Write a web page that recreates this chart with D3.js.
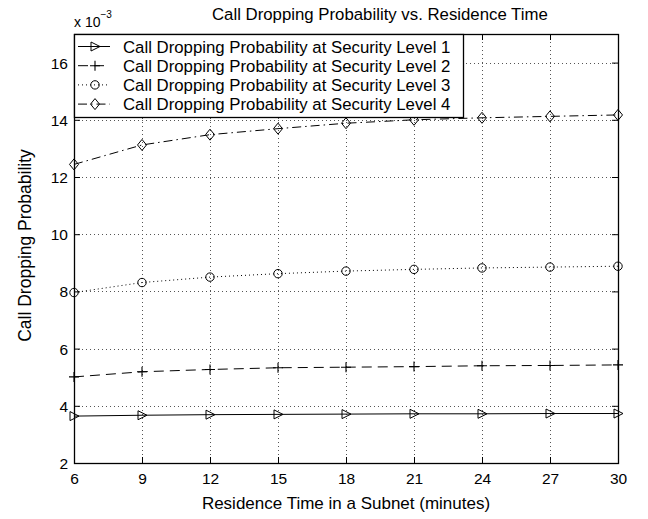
<!DOCTYPE html>
<html>
<head>
<meta charset="utf-8">
<script src="https://cdn.jsdelivr.net/npm/d3@7"></script>
<style>
  html, body { margin: 0; padding: 0; background: #fff; }
  svg { display: block; font-family: Arial, "Liberation Sans", Helvetica, sans-serif; }
</style>
</head>
<body>
<svg id="chart" width="648" height="519"></svg>
<script>
// ---- data (values in units of 1e-3) ----
const residenceTimes = [6, 9, 12, 15, 18, 21, 24, 27, 30];
const level1 = [3.64, 3.67, 3.69, 3.70, 3.71, 3.72, 3.72, 3.73, 3.73];
const level2 = [5.01, 5.19, 5.27, 5.33, 5.35, 5.37, 5.40, 5.41, 5.43];
const level3 = [7.96, 8.31, 8.50, 8.62, 8.71, 8.77, 8.82, 8.85, 8.88];
const level4 = [12.44, 13.12, 13.48, 13.69, 13.88, 14.00, 14.07, 14.12, 14.17];
const seriesNames = [
  "Call Dropping Probability at Security Level 1",
  "Call Dropping Probability at Security Level 2",
  "Call Dropping Probability at Security Level 3",
  "Call Dropping Probability at Security Level 4"
];
const xTicks = [6, 9, 12, 15, 18, 21, 24, 27, 30];
const yTicks = [2, 4, 6, 8, 10, 12, 14, 16];
const titleText = "Call Dropping Probability vs. Residence Time";
const xLabelText = "Residence Time in a Subnet (minutes)";
const yLabelText = "Call Dropping Probability";

const series = [
  { name: seriesNames[0], values: level1, dash: null, marker: "triangle" },
  { name: seriesNames[1], values: level2, dash: "10,6", marker: "plus" },
  { name: seriesNames[2], values: level3, dash: "1,3", marker: "circle" },
  { name: seriesNames[3], values: level4, dash: "9,4,1.5,4", marker: "diamond" }
];

// ---- layout ----
const W = 648, H = 519;
const m = { left: 74, right: 30, top: 34, bottom: 56 };
const svg = d3.select("#chart");
const x = d3.scaleLinear().domain([6, 30]).range([m.left, W - m.right]);
const y = d3.scaleLinear().domain([2, 17]).range([H - m.bottom, m.top]);
const x0 = x.range()[0], x1 = x.range()[1], y0 = y.range()[0], y1 = y.range()[1];

// grid
const grid = svg.append("g").attr("stroke", "#555").attr("stroke-width", 1).attr("stroke-dasharray", "1,3");
grid.selectAll("line.gx").data(xTicks.filter(t => t > 6 && t < 30)).join("line")
  .attr("x1", d => Math.round(x(d)) + 0.5).attr("x2", d => Math.round(x(d)) + 0.5)
  .attr("y1", y1).attr("y2", y0);
grid.selectAll("line.gy").data(yTicks.filter(t => t > 2)).join("line")
  .attr("y1", d => Math.round(y(d)) + 0.5).attr("y2", d => Math.round(y(d)) + 0.5)
  .attr("x1", x0).attr("x2", x1);

// axes (MATLAB style: inward ticks on all sides)
const tickLen = 6;
const fmt = d3.format("d");
const axB = svg.append("g").attr("transform", `translate(0,${y0})`)
  .call(d3.axisBottom(x).tickValues(xTicks).tickFormat(fmt).tickSizeInner(-tickLen).tickSizeOuter(0).tickPadding(10));
const axL = svg.append("g").attr("transform", `translate(${x0},0)`)
  .call(d3.axisLeft(y).tickValues(yTicks).tickFormat(fmt).tickSizeInner(-tickLen).tickSizeOuter(0).tickPadding(6));
const axT = svg.append("g").attr("transform", `translate(0,${y1})`)
  .call(d3.axisTop(x).tickValues(xTicks).tickFormat("").tickSizeInner(-tickLen).tickSizeOuter(0));
const axR = svg.append("g").attr("transform", `translate(${x1},0)`)
  .call(d3.axisRight(y).tickValues(yTicks).tickFormat("").tickSizeInner(-tickLen).tickSizeOuter(0));
[axB, axL, axT, axR].forEach(a => {
  a.select(".domain").remove();
  a.selectAll(".tick line").attr("stroke", "#000");
  a.selectAll("text").attr("fill", "#000").style("font-size", "15.5px").style("font-family", "Arial, 'Liberation Sans', sans-serif");
});
axL.selectAll("text").attr("dy", "0.36em");

// box
svg.append("rect").attr("x", x0 + 0.5).attr("y", y1 + 0.5)
  .attr("width", x1 - x0).attr("height", y0 - y1)
  .attr("fill", "none").attr("stroke", "#000").attr("stroke-width", 1.3);

// markers
function drawMarker(g, type, cx, cy) {
  if (type === "triangle") {
    g.append("path").attr("d", `M${cx - 4},${cy - 4.5}L${cx + 5},${cy}L${cx - 4},${cy + 4.5}Z`)
      .attr("fill", "none").attr("stroke", "#000").attr("stroke-width", 1);
  } else if (type === "plus") {
    g.append("path").attr("d", `M${cx - 5},${cy}H${cx + 5}M${cx},${cy - 5}V${cy + 5}`)
      .attr("stroke", "#000").attr("stroke-width", 1.1);
  } else if (type === "circle") {
    g.append("circle").attr("cx", cx).attr("cy", cy).attr("r", 4.2)
      .attr("fill", "none").attr("stroke", "#000").attr("stroke-width", 1);
  } else if (type === "diamond") {
    g.append("path").attr("d", `M${cx},${cy - 5.5}L${cx + 4.5},${cy}L${cx},${cy + 5.5}L${cx - 4.5},${cy}Z`)
      .attr("fill", "none").attr("stroke", "#000").attr("stroke-width", 1);
  }
}

const line = d3.line().x(d => x(d[0])).y(d => y(d[1]));
series.forEach(s => {
  const pts = residenceTimes.map((t, i) => [t, s.values[i]]);
  const g = svg.append("g");
  g.append("path").attr("d", line(pts)).attr("fill", "none").attr("stroke", "#000")
    .attr("stroke-width", 1).attr("stroke-dasharray", s.dash);
  pts.forEach(p => drawMarker(g, s.marker, x(p[0]), y(p[1])));
});

// legend
const lg = svg.append("g");
const legW = 389, legH = 83;
lg.append("rect").attr("x", x0 + 0.5).attr("y", y1 + 0.5).attr("width", legW).attr("height", legH)
  .attr("fill", "#fff").attr("stroke", "#000").attr("stroke-width", 1.3);
series.forEach((s, i) => {
  const cy = y1 + 12.5 + i * 19.2;
  lg.append("line").attr("x1", x0 + 4).attr("x2", x0 + 36).attr("y1", cy).attr("y2", cy)
    .attr("stroke", "#000").attr("stroke-width", 1).attr("stroke-dasharray", s.dash);
  drawMarker(lg, s.marker, x0 + 21, cy);
  lg.append("text").attr("x", x0 + 49).attr("y", cy).attr("dy", "0.36em")
    .style("font-size", "16.8px").attr("fill", "#000").text(s.name);
});

// title
svg.append("text").attr("x", 212).attr("y", 20).style("font-size", "16.8px").attr("fill", "#000").text(titleText);

// exponent label
const ex = svg.append("text").attr("x", x0).attr("y", 27).attr("fill", "#000").style("font-size", "14px");
ex.append("tspan").text("x 10");
ex.append("tspan").attr("dy", -9).style("font-size", "10px").text("\u22123");

// axis labels
svg.append("text").attr("x", (x0 + x1) / 2).attr("y", 509).attr("text-anchor", "middle")
  .style("font-size", "17px").attr("fill", "#000").text(xLabelText);
svg.append("text").attr("transform", `translate(31,${(y0 + y1) / 2 - 3}) rotate(-90)`)
  .attr("text-anchor", "middle").style("font-size", "17.5px").attr("fill", "#000").text(yLabelText);
</script>
</body>
</html>
